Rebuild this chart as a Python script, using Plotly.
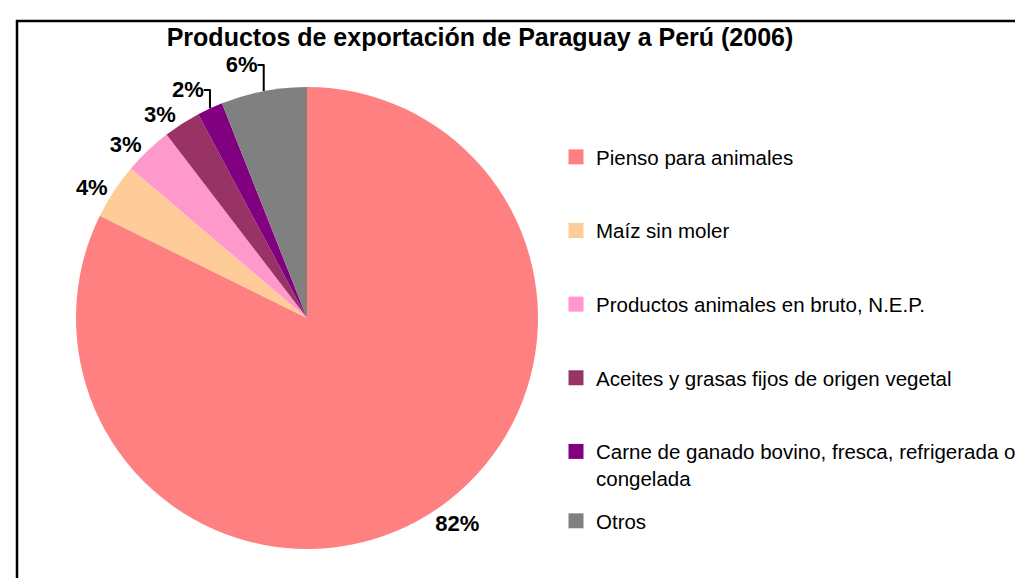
import plotly.graph_objects as go

categories = ["Pienso para animales", "Maíz sin moler", "Productos animales en bruto, N.E.P.",
              "Aceites y grasas fijos de origen vegetal",
              "Carne de ganado bovino, fresca, refrigerada o<br>congelada", "Otros"]
values = [82.3, 3.9, 3.4, 2.6, 1.8, 6.0]
colors = ["#FF8080", "#FFCC99", "#FF99CC", "#993366", "#800080", "#808080"]
title = "Productos de exportación de Paraguay a Perú (2006)"

FONT = "Liberation Sans, Arial, sans-serif"
W, H = 1023, 578

fig = go.Figure()
fig.add_trace(go.Pie(
    labels=categories, values=values, sort=False, direction="clockwise", rotation=0,
    marker=dict(colors=colors, line=dict(width=0)),
    texttemplate="<b>%{percent:.0%}</b>", textposition="outside",
    textfont=dict(family=FONT, size=22, color="black"),
    showlegend=False, hoverinfo="label+percent",
    domain=dict(x=[68 / W, 530 / W], y=[1 - 541 / H, 1 - 79 / H]),
))

for i, (c, col) in enumerate(zip(categories, colors)):
    fig.add_trace(go.Scatter(
        x=[None], y=[None], mode="markers", name=c, legendgroup=f"g{i}",
        legend="legend2" if i == len(categories) - 1 else "legend",
        marker=dict(symbol="square", size=15, color=col),
    ))

legend_common = dict(xanchor="left", yanchor="top", font=dict(family=FONT, size=20.5, color="black"),
                     valign="top", itemwidth=30, bgcolor="rgba(0,0,0,0)")

fig.update_layout(
    width=W, height=H, margin=dict(l=0, r=0, t=0, b=0),
    paper_bgcolor="white", plot_bgcolor="white",
    xaxis=dict(visible=False), yaxis=dict(visible=False),
    title=dict(text="<b>" + title + "</b>", x=472 / W, xanchor="center", y=1 - 29 / H, yanchor="middle",
               font=dict(family=FONT, size=25, color="black")),
    legend=dict(x=548 / W, y=1 - 129 / H, tracegroupgap=44, **legend_common),
    legend2=dict(x=548 / W, y=1 - 493 / H, **legend_common),
    shapes=[dict(type="rect", xref="paper", yref="paper", x0=9 / W, x1=1.02, y0=-0.02, y1=1 - 13 / H,
                 line=dict(color="black", width=2.5), fillcolor="rgba(0,0,0,0)", layer="above")],
)

fig.write_html("out.html")
